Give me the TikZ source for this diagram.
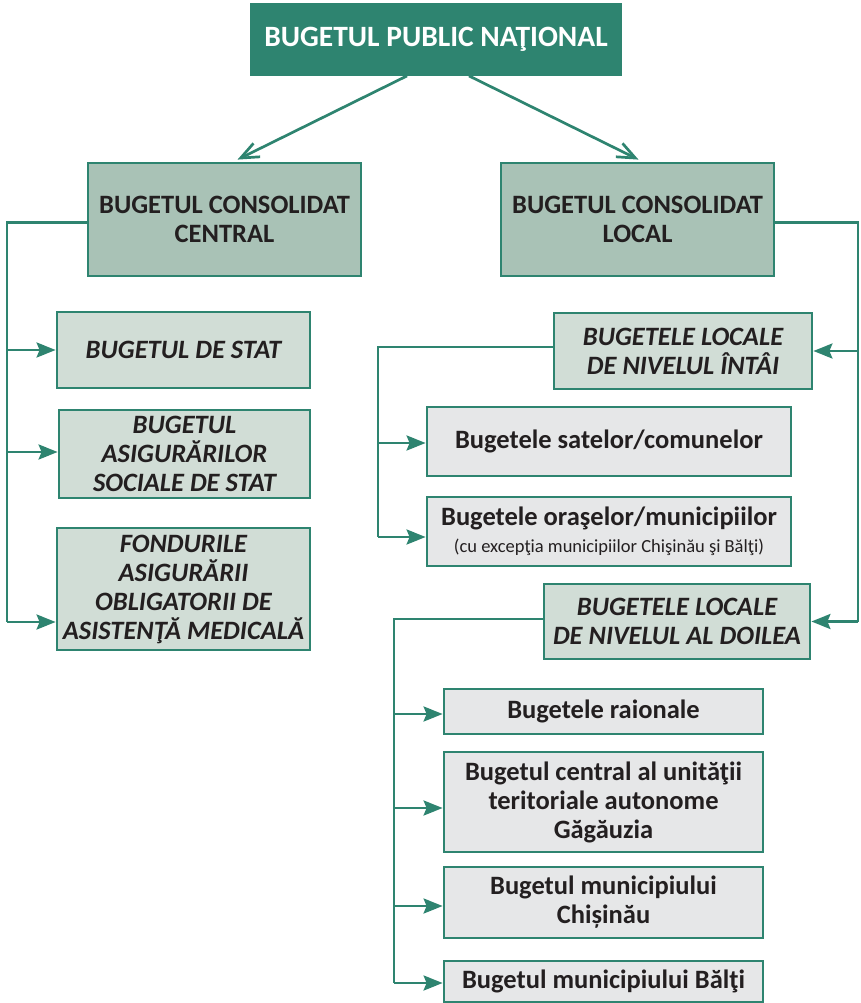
\documentclass[tikz,border=0pt]{standalone}
\usepackage{fontspec}
\setmainfont{Carlito}
\usetikzlibrary{arrows.meta,calc}
\definecolor{dkgreen}{HTML}{2E8470}
\definecolor{midgreen}{HTML}{A9C2B6}
\definecolor{ltgreen}{HTML}{D1DDD6}
\definecolor{ltgrey}{HTML}{E6E7E8}
\definecolor{ink}{HTML}{231F20}
\tikzset{
  box/.style={draw=dkgreen, line width=2.8pt, align=center, inner sep=1pt, text=ink,
    font=\bfseries\fontsize{26.5}{29}\selectfont},
  topbox/.style={box, fill=dkgreen, text=white, font=\bfseries\fontsize{29.5}{32}\selectfont},
  lvl1/.style={box, fill=midgreen},
  lvl2/.style={box, fill=ltgreen, font=\bfseries\itshape\fontsize{26.5}{29}\selectfont},
  lvl3/.style={box, fill=ltgrey},
  conn/.style={draw=dkgreen, line width=2.7pt},
  openarr/.style={conn, -{Straight Barb[length=18pt,width=15pt,line width=2.7pt]}},
  fillarr/.style={conn, -{Stealth[length=19pt,width=15pt,inset=3pt]}}
}
\begin{document}
\begin{tikzpicture}[x=1pt,y=-1pt]
\useasboundingbox (0,0) rectangle (860,1003);
% nodes
\node[topbox, minimum width=370pt, minimum height=70pt] (top) at (436,39.5) {BUGETUL PUBLIC NAŢIONAL};
\node[lvl1, minimum width=273pt, minimum height=113pt] (cc) at (224.5,219.5) {BUGETUL CONSOLIDAT\\CENTRAL};
\node[lvl1, minimum width=273pt, minimum height=113pt] (cl) at (637.5,219.5) {BUGETUL CONSOLIDAT\\LOCAL};
\node[lvl2, minimum width=253pt, minimum height=76pt] (bs) at (183.5,350) {BUGETUL DE STAT};
\node[lvl2, minimum width=251pt, minimum height=88pt] (bas) at (184.5,454) {BUGETUL\\ASIGURĂRILOR\\SOCIALE DE STAT};
\node[lvl2, minimum width=253pt, minimum height=122pt] (fao) at (183.5,589) {FONDURILE\\ASIGURĂRII\\OBLIGATORII DE\\ASISTENŢĂ MEDICALĂ};
\node[lvl2, minimum width=258pt, minimum height=76pt] (bl1) at (683,351) {BUGETELE LOCALE\\DE NIVELUL ÎNTÂI};
\node[lvl3, minimum width=364pt, minimum height=69pt] (sat) at (609,441.5) {Bugetele satelor/comunelor};
\node[lvl3, minimum width=364pt, minimum height=69pt] (ora) at (609,531.5) {Bugetele oraşelor/municipiilor\\[-2pt]{\mdseries\fontsize{18.5}{21}\selectfont (cu excepţia municipiilor Chişinău şi Bălţi)}};
\node[lvl2, minimum width=266pt, minimum height=75pt] (bl2) at (677,621.5) {BUGETELE LOCALE\\DE NIVELUL AL DOILEA};
\node[lvl3, minimum width=319pt, minimum height=45pt] (rai) at (603.5,711.5) {Bugetele raionale};
\node[lvl3, minimum width=319pt, minimum height=100pt] (gag) at (603.5,802) {Bugetul central al unităţii\\teritoriale autonome\\Găgăuzia};
\node[lvl3, minimum width=319pt, minimum height=71pt] (chi) at (603.5,902.5) {Bugetul municipiului\\Chișinău};
\node[lvl3, minimum width=319pt, minimum height=41pt] (bal) at (603.5,981.5) {Bugetul municipiului Bălţi};
% trunk coordinates
\coordinate (lx) at (7,0);
\coordinate (rx) at (858,0);
\coordinate (mx1) at (378,0);
\coordinate (mx2) at (394,0);
% top arrows
\draw[openarr] ([xshift=-29pt]top.south) -- ([xshift=13pt,yshift=2pt]cc.north);
\draw[openarr] ([xshift=33pt]top.south) -- ([xshift=1pt,yshift=2pt]cl.north);
% left tree
\draw[conn] ([yshift=-3pt]cc.west) -- ([yshift=-3pt]cc.west -| lx) -- ([yshift=-33pt]fao.west -| lx);
\draw[fillarr] (bs.west -| lx) -- (bs.west);
\draw[fillarr] ([yshift=2pt]bas.west -| lx) -- ([yshift=2pt]bas.west);
\draw[fillarr] ([yshift=-33pt]fao.west -| lx) -- ([yshift=-33pt]fao.west);
% right tree
\draw[conn] ([yshift=-3pt]cl.east) -- ([yshift=-3pt]cl.east -| rx) -- (bl2.east -| rx);
\draw[fillarr] (bl1.east -| rx) -- (bl1.east);
\draw[fillarr] (bl2.east -| rx) -- (bl2.east);
% level-1 local subtree
\draw[conn] ([yshift=4pt]bl1.west) -- ([yshift=4pt]bl1.west -| mx1) -- ([yshift=-5.5pt]ora.west -| mx1);
\draw[fillarr] ([yshift=-1.5pt]sat.west -| mx1) -- ([yshift=-1.5pt]sat.west);
\draw[fillarr] ([yshift=-5.5pt]ora.west -| mx1) -- ([yshift=-5.5pt]ora.west);
% level-2 local subtree
\draw[conn] ([yshift=2.5pt]bl2.west) -- ([yshift=2.5pt]bl2.west -| mx2) -- ([yshift=-1.5pt]bal.west -| mx2);
\draw[fillarr] ([yshift=-2.5pt]rai.west -| mx2) -- ([yshift=-2.5pt]rai.west);
\draw[fillarr] ([yshift=-6pt]gag.west -| mx2) -- ([yshift=-6pt]gag.west);
\draw[fillarr] ([yshift=-3.5pt]chi.west -| mx2) -- ([yshift=-3.5pt]chi.west);
\draw[fillarr] ([yshift=-1.5pt]bal.west -| mx2) -- ([yshift=-1.5pt]bal.west);
\end{tikzpicture}
\end{document}
